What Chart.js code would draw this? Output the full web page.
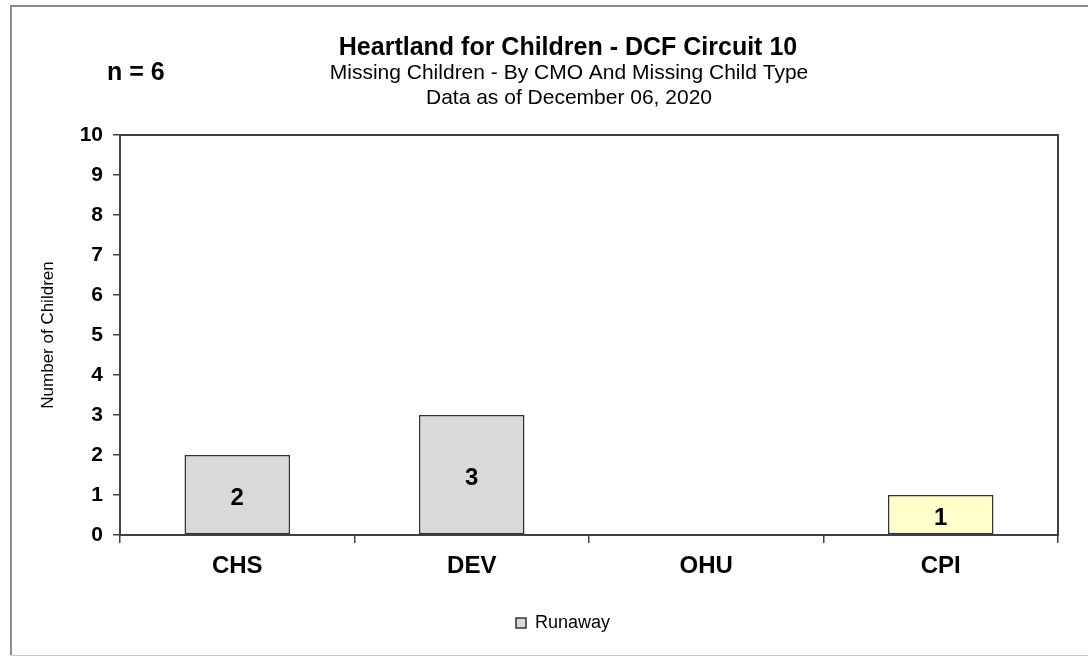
<!DOCTYPE html>
<html>
<head>
<meta charset="utf-8">
<script src="https://cdn.jsdelivr.net/npm/chart.js@4.4.1/dist/chart.umd.min.js"></script>
<style>
  html, body { margin: 0; padding: 0; background: #fff; }
  #wrap { position: relative; width: 1088px; height: 656px; }
</style>
</head>
<body>
<div id="wrap"><canvas id="chart" width="1088" height="656"></canvas></div>
<script>
// ==== Chart data ====
const categories = ['CHS', 'DEV', 'OHU', 'CPI'];
const runaway = [2, 3, 0, 1];
const barColors = ['#d9d9d9', '#d9d9d9', '#d9d9d9', '#ffffcc'];
const yTicks = [0, 1, 2, 3, 4, 5, 6, 7, 8, 9, 10];
const titleLines = ['Heartland for Children - DCF Circuit 10', 'Missing Children - By CMO And Missing Child Type', 'Data as of December 06, 2020'];
const countLabel = 'n = 6';

const FONT = '"Liberation Sans", Arial, sans-serif';

// header text, outer frame, plot box and value labels
const decor = {
  id: 'decor',
  afterLayout(chart) {
    // legend sits a bit right of centre in the original
    chart.legend.left += 34;
    chart.legend.right += 34;
  },
  beforeDraw(chart) {
    const ctx = chart.ctx;
    ctx.save();
    ctx.strokeStyle = '#8c8c8c';
    ctx.lineWidth = 2;
    ctx.beginPath();
    ctx.moveTo(1088, 6); ctx.lineTo(11, 6); ctx.lineTo(11, 655);
    ctx.stroke();
    ctx.strokeStyle = '#c8c8c8';
    ctx.lineWidth = 1;
    ctx.beginPath();
    ctx.moveTo(11, 655.5); ctx.lineTo(1088, 655.5);
    ctx.stroke();

    ctx.fillStyle = '#000';
    ctx.textAlign = 'center';
    ctx.textBaseline = 'alphabetic';
    ctx.font = 'bold 25px ' + FONT;
    ctx.fillText(titleLines[0], 568, 55);
    ctx.font = '21px ' + FONT;
    ctx.fillText(titleLines[1], 569, 79);
    ctx.fillText(titleLines[2], 569, 104);
    ctx.textAlign = 'left';
    ctx.font = 'bold 25px ' + FONT;
    ctx.fillText(countLabel, 107, 80);
    ctx.restore();
  },
  afterDatasetsDraw(chart) {
    const {ctx, chartArea: a} = chart;
    ctx.save();
    ctx.strokeStyle = '#404040';
    ctx.lineWidth = 2;
    ctx.strokeRect(a.left, a.top, a.right - a.left, a.bottom - a.top);
    const meta = chart.getDatasetMeta(0);
    ctx.fillStyle = '#000';
    ctx.font = 'bold 24px ' + FONT;
    ctx.textAlign = 'center';
    ctx.textBaseline = 'middle';
    meta.data.forEach((bar, i) => {
      const v = runaway[i];
      if (!v) return;
      ctx.fillText(String(v), bar.x, (bar.y + bar.base) / 2 + 4);
    });
    ctx.restore();
  }
};

new Chart(document.getElementById('chart'), {
  type: 'bar',
  data: {
    labels: categories,
    datasets: [{
      label: 'Runaway',
      data: runaway,
      backgroundColor: barColors,
      borderColor: '#333333',
      borderWidth: 1.5,
      borderSkipped: false,
      categoryPercentage: 0.45,
      barPercentage: 1
    }]
  },
  options: {
    responsive: false,
    animation: false,
    layout: { padding: { top: 135, right: 30, bottom: 14, left: 0 } },
    plugins: {
      tooltip: { enabled: false },
      legend: {
        position: 'bottom',
        labels: {
          color: '#000',
          font: { family: FONT, size: 18 },
          boxWidth: 10,
          boxHeight: 10,
          padding: 10,
          generateLabels: () => [{
            text: 'Runaway',
            fillStyle: barColors[0],
            strokeStyle: '#333333',
            lineWidth: 1.5,
            datasetIndex: 0
          }]
        }
      }
    },
    scales: {
      x: {
        afterFit: s => { s.height = 69; },
        grid: { display: true, drawOnChartArea: false, tickLength: 8, color: '#404040', lineWidth: 1.5, offset: true },
        border: { display: true, color: '#404040', width: 2 },
        ticks: { color: '#000', padding: 9, font: { family: FONT, size: 24, weight: 'bold' } }
      },
      y: {
        min: 0,
        max: 10,
        afterFit: s => { s.width = 120; },
        afterBuildTicks: s => { s.ticks = yTicks.map(v => ({ value: v })); },
        grid: { display: true, drawOnChartArea: false, tickLength: 7, color: '#404040', lineWidth: 1.5 },
        border: { display: true, color: '#404040', width: 2 },
        ticks: { color: '#000', padding: 10, font: { family: FONT, size: 21, weight: 'bold' } },
        title: {
          display: true,
          text: 'Number of Children',
          color: '#000',
          padding: { top: 38, bottom: 0 },
          font: { family: FONT, size: 17 }
        }
      }
    }
  },
  plugins: [decor]
});
</script>
</body>
</html>
